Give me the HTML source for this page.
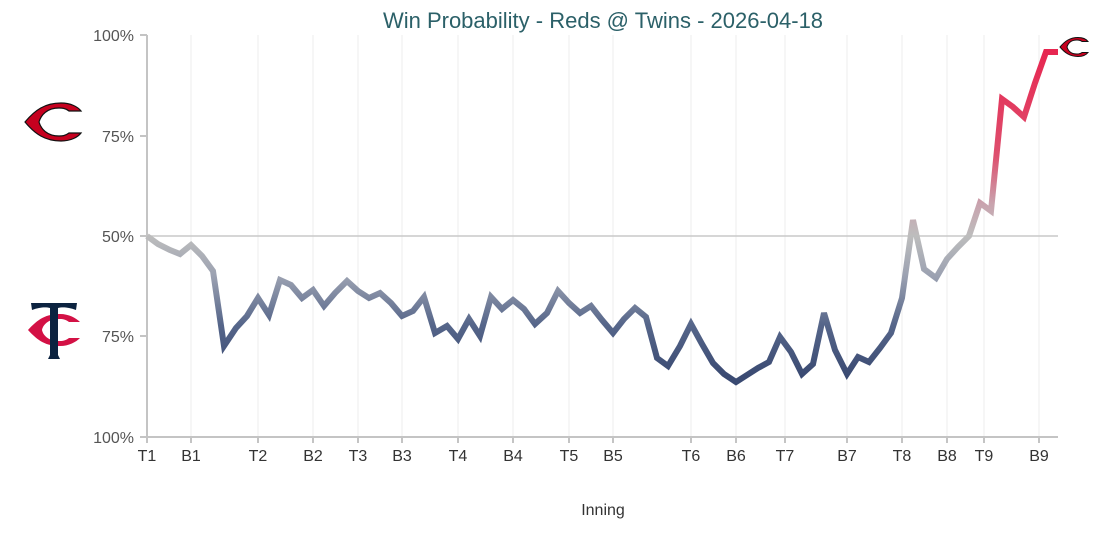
<!DOCTYPE html>
<html><head><meta charset="utf-8"><style>
body{margin:0;background:#fff;}
svg{display:block;font-family:"Liberation Sans Narrow","Liberation Sans",sans-serif;}
</style></head><body>
<svg width="1119" height="533" viewBox="0 0 1119 533">
<defs>
<linearGradient id="g" gradientUnits="userSpaceOnUse" x1="0" y1="35" x2="0" y2="437">
<stop offset="0" stop-color="#e8204c"/>
<stop offset="0.3" stop-color="#de4f6e"/>
<stop offset="0.42" stop-color="#c9a3ae"/>
<stop offset="0.5" stop-color="#bdbdbd"/>
<stop offset="0.6" stop-color="#9ba1b1"/>
<stop offset="0.72" stop-color="#56668a"/>
<stop offset="0.85" stop-color="#3a4a72"/>
<stop offset="1" stop-color="#33436b"/>
</linearGradient>
</defs>
<text x="603" y="28" text-anchor="middle" font-size="22" fill="#2b6068">Win Probability - Reds @ Twins - 2026-04-18</text>
<g stroke="#eeeeee" stroke-width="1">
<line x1="191" y1="35" x2="191" y2="437"/><line x1="258" y1="35" x2="258" y2="437"/><line x1="313" y1="35" x2="313" y2="437"/><line x1="358" y1="35" x2="358" y2="437"/><line x1="402" y1="35" x2="402" y2="437"/><line x1="458" y1="35" x2="458" y2="437"/><line x1="513" y1="35" x2="513" y2="437"/><line x1="569" y1="35" x2="569" y2="437"/><line x1="613" y1="35" x2="613" y2="437"/><line x1="691" y1="35" x2="691" y2="437"/><line x1="736" y1="35" x2="736" y2="437"/><line x1="785" y1="35" x2="785" y2="437"/><line x1="847" y1="35" x2="847" y2="437"/><line x1="902" y1="35" x2="902" y2="437"/><line x1="947" y1="35" x2="947" y2="437"/><line x1="984" y1="35" x2="984" y2="437"/><line x1="1039" y1="35" x2="1039" y2="437"/>
</g>
<line x1="147" y1="236" x2="1058" y2="236" stroke="#c8c8c8" stroke-width="1.5"/>
<g stroke="#c4c4c4" stroke-width="2">
<line x1="147" y1="35" x2="147" y2="437"/><line x1="140" y1="437" x2="1058" y2="437"/>
<line x1="140" y1="35" x2="147" y2="35"/><line x1="140" y1="136" x2="147" y2="136"/><line x1="140" y1="236" x2="147" y2="236"/><line x1="140" y1="336" x2="147" y2="336"/>
<line x1="147" y1="437" x2="147" y2="443"/><line x1="191" y1="437" x2="191" y2="443"/><line x1="258" y1="437" x2="258" y2="443"/><line x1="313" y1="437" x2="313" y2="443"/><line x1="358" y1="437" x2="358" y2="443"/><line x1="402" y1="437" x2="402" y2="443"/><line x1="458" y1="437" x2="458" y2="443"/><line x1="513" y1="437" x2="513" y2="443"/><line x1="569" y1="437" x2="569" y2="443"/><line x1="613" y1="437" x2="613" y2="443"/><line x1="691" y1="437" x2="691" y2="443"/><line x1="736" y1="437" x2="736" y2="443"/><line x1="785" y1="437" x2="785" y2="443"/><line x1="847" y1="437" x2="847" y2="443"/><line x1="902" y1="437" x2="902" y2="443"/><line x1="947" y1="437" x2="947" y2="443"/><line x1="984" y1="437" x2="984" y2="443"/><line x1="1039" y1="437" x2="1039" y2="443"/>
</g>
<g font-size="16" fill="#555" text-anchor="end">
<text x="134" y="41">100%</text><text x="134" y="142">75%</text><text x="134" y="242">50%</text><text x="134" y="342">75%</text><text x="134" y="443">100%</text>
</g>
<g font-size="16" fill="#333" text-anchor="middle">
<text x="147" y="461">T1</text><text x="191" y="461">B1</text><text x="258" y="461">T2</text><text x="313" y="461">B2</text><text x="358" y="461">T3</text><text x="402" y="461">B3</text><text x="458" y="461">T4</text><text x="513" y="461">B4</text><text x="569" y="461">T5</text><text x="613" y="461">B5</text><text x="691" y="461">T6</text><text x="736" y="461">B6</text><text x="785" y="461">T7</text><text x="847" y="461">B7</text><text x="902" y="461">T8</text><text x="947" y="461">B8</text><text x="984" y="461">T9</text><text x="1039" y="461">B9</text>
<text x="603" y="515">Inning</text>
</g>
<polyline fill="none" stroke="url(#g)" stroke-width="6" stroke-linejoin="miter" points="147,236 158,244 170,250 180,254 191,245 202,256 213,271 224,346 236,328 247,316 258,298 269,315 280,280 291,285 302,298 313,290 324,306 335,293 347,281 358,291 369,298 380,293 391,303 402,316 413,311 424,297 435,333 447,326 458,339 469,319 480,336 491,297 502,309 513,300 524,309 535,324 547,313 558,291 569,303 580,313 591,306 602,320 613,333 624,319 635,308 646,317 657,358 668,366 680,346 691,324 702,344 713,363 724,374 736,382 747,375 758,368 769,362 780,337 791,352 802,374 813,364 824,313 835,350 847,374 858,357 869,362 880,348 891,333 902,298 913,220 924,269 936,278 947,259 958,247 969,236 980,203 991,211 1002,99 1013,107 1024,117 1035,83 1046,52 1058,52"/>
<!-- Reds logo -->
<g transform="translate(53,122)">
<path d="M-28,0 C-18,-12 -8,-19 8,-19 C18,-19 25,-15 28,-11 L16,-11 C12,-14 9,-14 6,-14 C-6,-14 -12,-7 -14,0 C-12,7 -6,14 6,14 C9,14 12,14 16,11 L28,11 C25,15 18,19 8,19 C-8,19 -18,12 -28,0 Z" fill="#c6011f" stroke="#111" stroke-width="1.2"/>
</g>
<g transform="translate(1074,47) scale(0.5)">
<path d="M-28,0 C-18,-12 -8,-19 8,-19 C18,-19 25,-15 28,-11 L16,-11 C12,-14 9,-14 6,-14 C-6,-14 -12,-7 -14,0 C-12,7 -6,14 6,14 C9,14 12,14 16,11 L28,11 C25,15 18,19 8,19 C-8,19 -18,12 -28,0 Z" fill="#c6011f" stroke="#111" stroke-width="2"/>
</g>
<!-- Twins logo -->
<g transform="translate(54,330)">
<path d="M-26,0 C-16,-11 -8,-16 6,-16 C15,-16 22,-12 26,-8 L15,-8 C11,-11 8,-11 5,-11 C-6,-11 -11,-5 -12,0 C-11,5 -6,11 5,11 C8,11 11,11 15,8 L26,8 C22,12 15,16 6,16 C-8,16 -16,11 -26,0 Z" fill="#d31145"/>
<path d="M-23,-27 L23,-27 L22,-20 C14,-23 8,-23 4,-22 L4,25 L6,29 L-6,29 L-4,25 L-4,-22 C-8,-23 -14,-23 -22,-20 Z" fill="#0c2340"/>
</g>
</svg>
</body></html>
